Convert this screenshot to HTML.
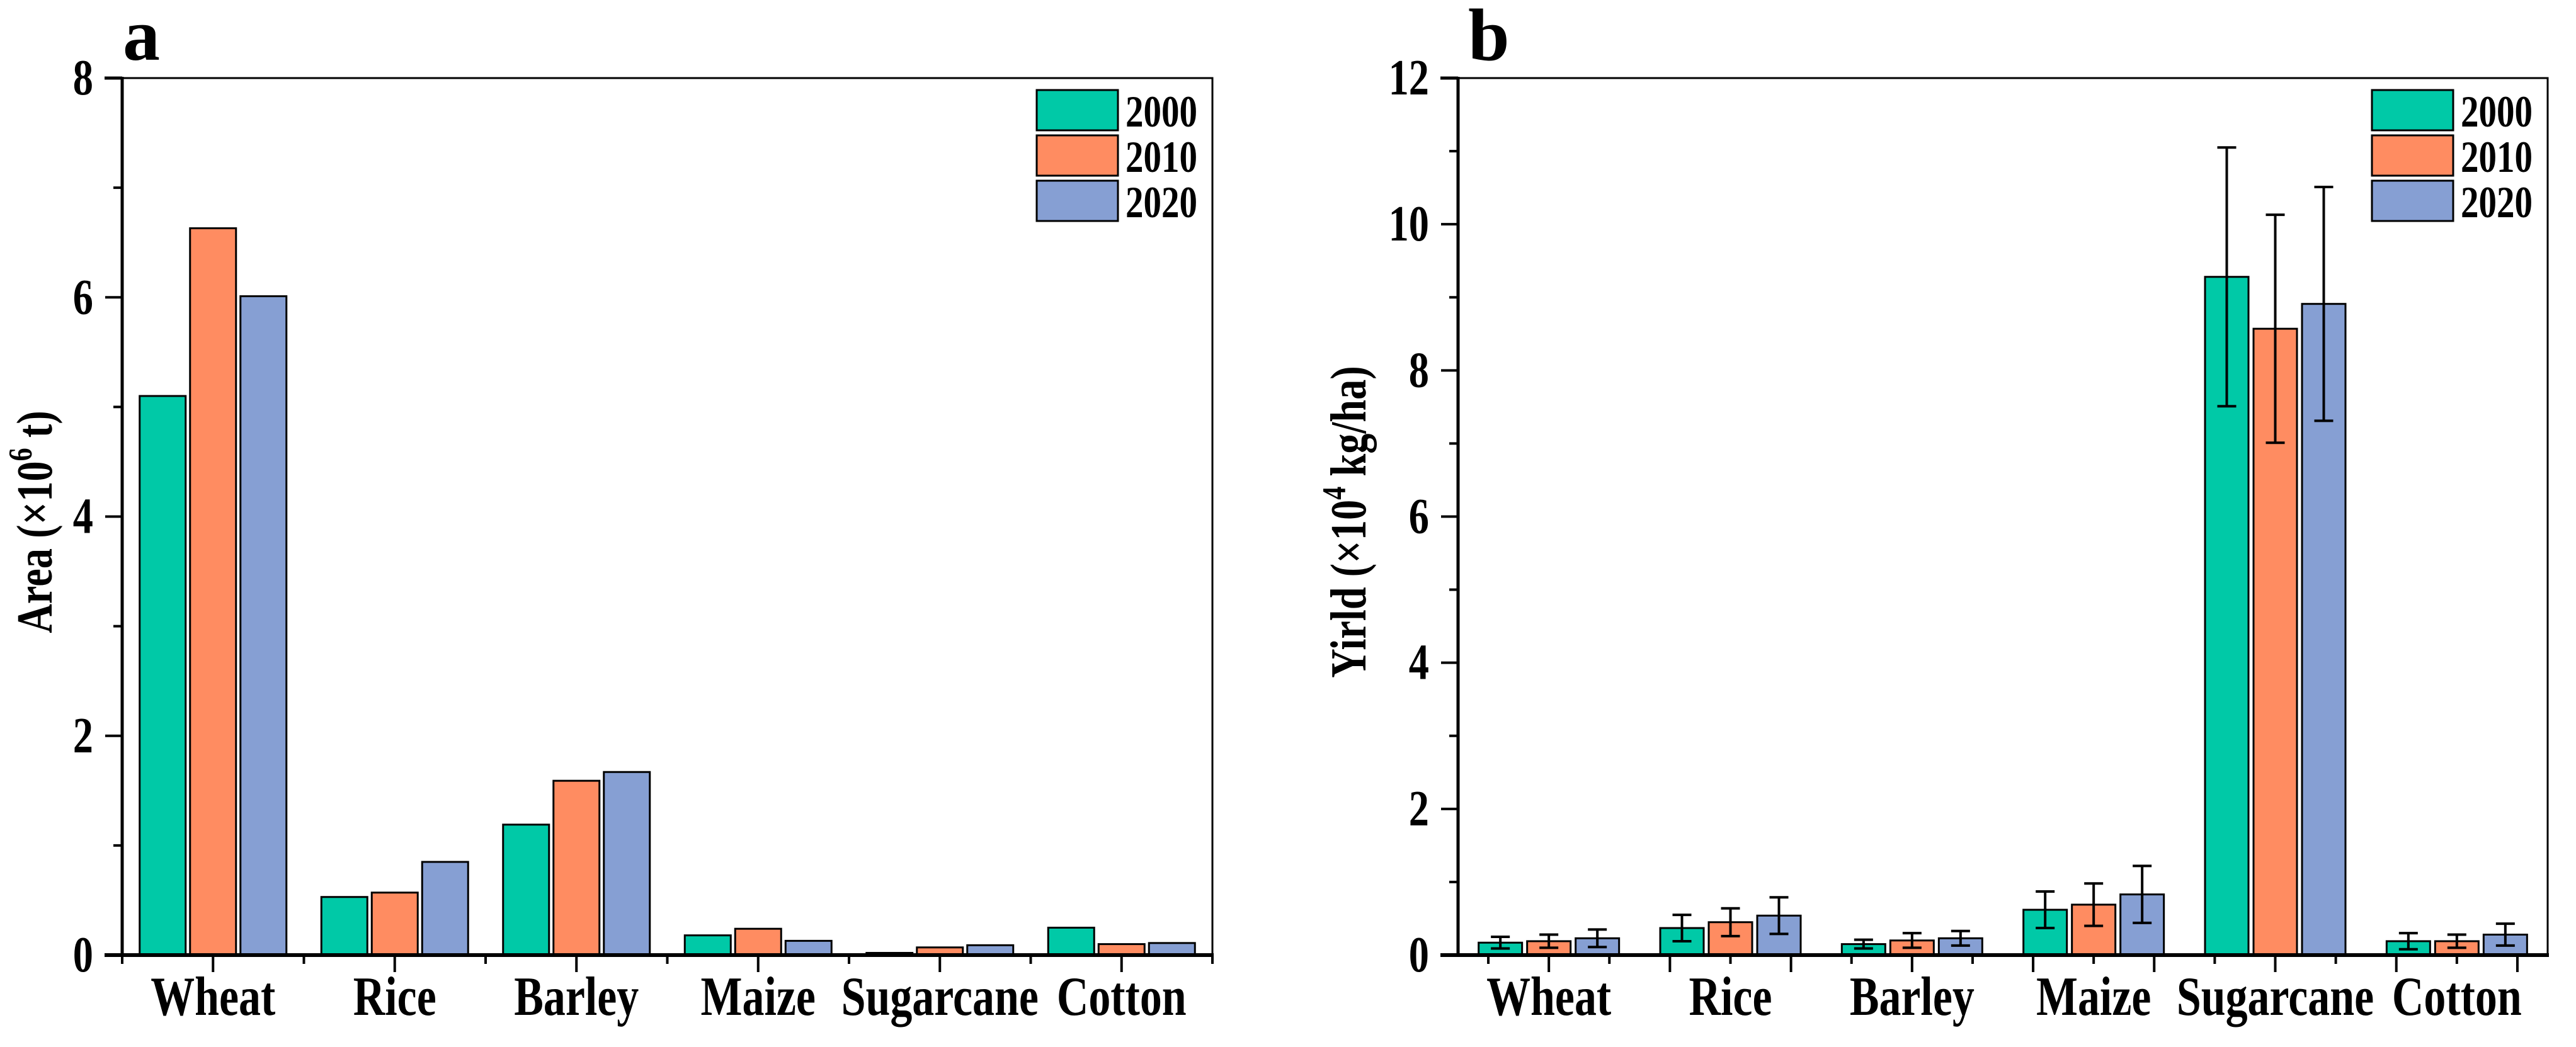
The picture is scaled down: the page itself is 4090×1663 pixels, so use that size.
<!DOCTYPE html>
<html><head><meta charset="utf-8"><style>
html,body{margin:0;padding:0;background:#fff;}
svg{display:block;}
text{font-family:"Liberation Serif",serif;font-weight:bold;fill:#000;}
</style></head><body>
<svg id="chart" width="4090" height="1663" viewBox="0 0 4090 1663" xmlns="http://www.w3.org/2000/svg"></svg>
<script>
const categories = ["Wheat","Rice","Barley","Maize","Sugarcane","Cotton"];
const years = ["2000","2010","2020"];
const colors = ["#00C9A7","#FF8C61","#869FD3"];
// Panel a: Area (x10^6 t)
const areaY2000 = [5.10,0.53,1.19,0.18,0.02,0.25];
const areaY2010 = [6.63,0.57,1.59,0.24,0.07,0.10];
const areaY2020 = [6.01,0.85,1.67,0.13,0.09,0.11];
const areaTicks = [0,2,4,6,8];
// Panel b: Yield (x10^4 kg/ha)
const yieldY2000 = [0.17,0.37,0.15,0.62,9.28,0.19];
const yieldY2010 = [0.19,0.45,0.20,0.69,8.57,0.19];
const yieldY2020 = [0.23,0.54,0.23,0.83,8.91,0.28];
const yieldErr2000 = [0.08,0.18,0.06,0.25,1.77,0.11];
const yieldErr2010 = [0.09,0.19,0.10,0.29,1.56,0.09];
const yieldErr2020 = [0.12,0.25,0.10,0.39,1.60,0.15];
const yieldTicks = [0,2,4,6,8,10,12];

const NS="http://www.w3.org/2000/svg";
const svg=document.getElementById('chart');
function mk(tag,attrs,parent){const e=document.createElementNS(NS,tag);for(const k in attrs)e.setAttribute(k,attrs[k]);(parent||svg).appendChild(e);return e;}
const SQ='scale(0.92,1.15)';

function panel(opt){
  const g=mk('g',{});
  
  
  const L=opt.left,R=opt.right,T=124,B=1517;
  const catW=(R-L)/categories.length;
  const y=v=>B-(v/opt.max)*(B-T);
  const xc=i=>L+catW*(i+0.5);
  const barW=opt.barW, step=opt.step;
  opt.series.forEach((vals,s)=>{
    vals.forEach((v,i)=>{
      const cx=xc(i)+(s-1)*step;
      const r=mk('rect',{x:cx-barW/2,y:y(v),width:barW,height:B-y(v),fill:colors[s],stroke:'#000','stroke-width':3},g);
      
      
      if(opt.errs){
        const e=opt.errs[s][i];
        const eg=mk('g',{stroke:'#000','stroke-width':4},g);
        
        
        mk('line',{x1:cx,x2:cx,y1:y(v+e),y2:y(v-e)},eg);
        mk('line',{x1:cx-15,x2:cx+15,y1:y(v+e),y2:y(v+e)},eg);
        mk('line',{x1:cx-15,x2:cx+15,y1:y(v-e),y2:y(v-e)},eg);
      }
    });
  });
  const fr=mk('rect',{x:L,y:T,width:R-L,height:B-T,fill:'none',stroke:'#000','stroke-width':3},g);
  
  
  const ax=mk('line',{x1:L-28,x2:R+2,y1:B,y2:B,stroke:'#000','stroke-width':6},g);
  
  
  mk('line',{x1:L,x2:L,y1:T-2,y2:B+2,stroke:'#000','stroke-width':5},g);
  for(let v=0; v<=opt.max; v+=opt.minor){
    const major=opt.ticks.indexOf(v)>=0;
    mk('line',{x1:L-(major?27:14),x2:L,y1:y(v),y2:y(v),stroke:'#000','stroke-width':4},g);
  }
  opt.ticks.forEach(v=>{
    const t=mk('text',{x:0,y:0,'text-anchor':'end','font-size':70,transform:`translate(${L-46},${y(v)+26}) ${SQ}`},g);
    t.textContent=v;
    
    
  });
  mk('line',{x1:L-28,x2:L,y1:T,y2:T,stroke:'#000','stroke-width':5},g);
  if(opt.xTickMode==='a'){
    for(let i=0;i<=categories.length;i++){
      mk('line',{x1:L+catW*i,x2:L+catW*i,y1:B,y2:B+14,stroke:'#000','stroke-width':4},g);
      if(i<categories.length) mk('line',{x1:xc(i),x2:xc(i),y1:B,y2:B+27,stroke:'#000','stroke-width':4},g);
    }
  } else {
    const st=catW/3;
    for(let k=-1;k<18;k++){
      const x=xc(0)+k*st;
      if(x<=L+5||x>=R-5) continue;
      const major=((k%2)+2)%2===0;
      mk('line',{x1:x,x2:x,y1:B,y2:B+(major?27:14),stroke:'#000','stroke-width':4},g);
    }
  }
  categories.forEach((c,i)=>{
    const t=mk('text',{x:0,y:0,'text-anchor':'middle','font-size':76,transform:`translate(${xc(i)},1612) ${SQ}`},g);
    t.textContent=c;
    
    
  });
  const yt=mk('text',{x:0,y:0,'text-anchor':'middle','font-size':70,transform:`translate(${opt.titleX},829) rotate(-90) ${SQ}`},g);
  
  
  yt.innerHTML=opt.title;
  const pl=mk('text',{x:opt.letterX,y:95,'font-size':118},g);
  pl.textContent=opt.letter;
  
  
  years.forEach((yr,s)=>{
    const lg=mk('g',{},g);
    
    
    const by=143+s*72;
    mk('rect',{x:R-279,y:by,width:129,height:64,fill:colors[s],stroke:'#000','stroke-width':3},lg);
    const t=mk('text',{x:0,y:0,'font-size':62,transform:`translate(${R-138},${by+58}) ${SQ}`},lg);
    t.textContent=yr;
  });
}
panel({name:'area-chart',left:194,right:1925,max:8,ticks:areaTicks,minor:1,series:[areaY2000,areaY2010,areaY2020],barW:73,step:80,xTickMode:'a',title:'Area (×10<tspan dy="-28" font-size="46">6</tspan><tspan dy="28"> t)</tspan>',titleX:82,letter:'a',letterX:195});
panel({name:'yield-chart',left:2315,right:4045,max:12,ticks:yieldTicks,minor:1,series:[yieldY2000,yieldY2010,yieldY2020],errs:[yieldErr2000,yieldErr2010,yieldErr2020],barW:69,step:77,xTickMode:'b',title:'Yirld (×10<tspan dy="-28" font-size="46">4</tspan><tspan dy="28"> kg/ha)</tspan>',titleX:2168,letter:'b',letterX:2331});
</script>
</body></html>
